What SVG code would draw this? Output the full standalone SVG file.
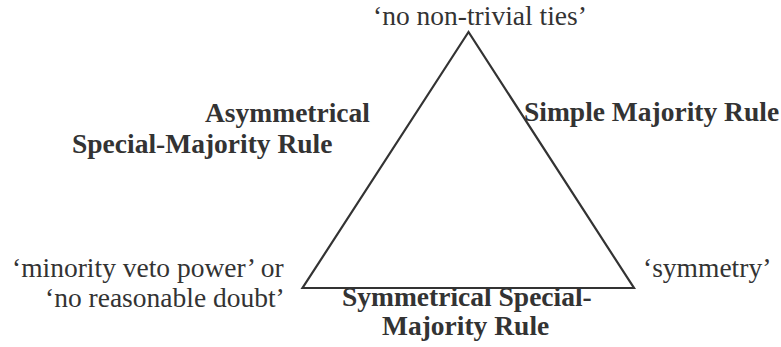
<svg xmlns="http://www.w3.org/2000/svg" width="781" height="347" viewBox="0 0 781 347">
<style>
text{font-family:"Liberation Serif","Times New Roman",serif;font-size:27.5px;fill:#333}
.b{font-weight:bold}
.edge{fill:none;stroke:#333;stroke-width:2.2;stroke-linejoin:miter}
</style>
<rect width="781" height="347" fill="#fff"/>
<g id="connectors">
<polygon class="edge" points="468.5,32 302.5,288 634,288"/>
</g>
<g id="top"><text x="373" y="25">‘no non-trivial ties’</text></g>
<g id="left"><text x="12" y="277">‘minority veto power’ or</text><text x="45" y="307">‘no reasonable doubt’</text></g>
<g id="right"><text x="643" y="277">‘symmetry’</text></g>
<g id="asym"><text class="b" x="205" y="122">Asymmetrical</text><text class="b" x="72" y="153">Special-Majority Rule</text></g>
<g id="simple"><text class="b" x="524" y="121">Simple Majority Rule</text></g>
<g id="sym"><text class="b" x="342" y="306">Symmetrical Special-</text><text class="b" x="382" y="335">Majority Rule</text></g>
</svg>
